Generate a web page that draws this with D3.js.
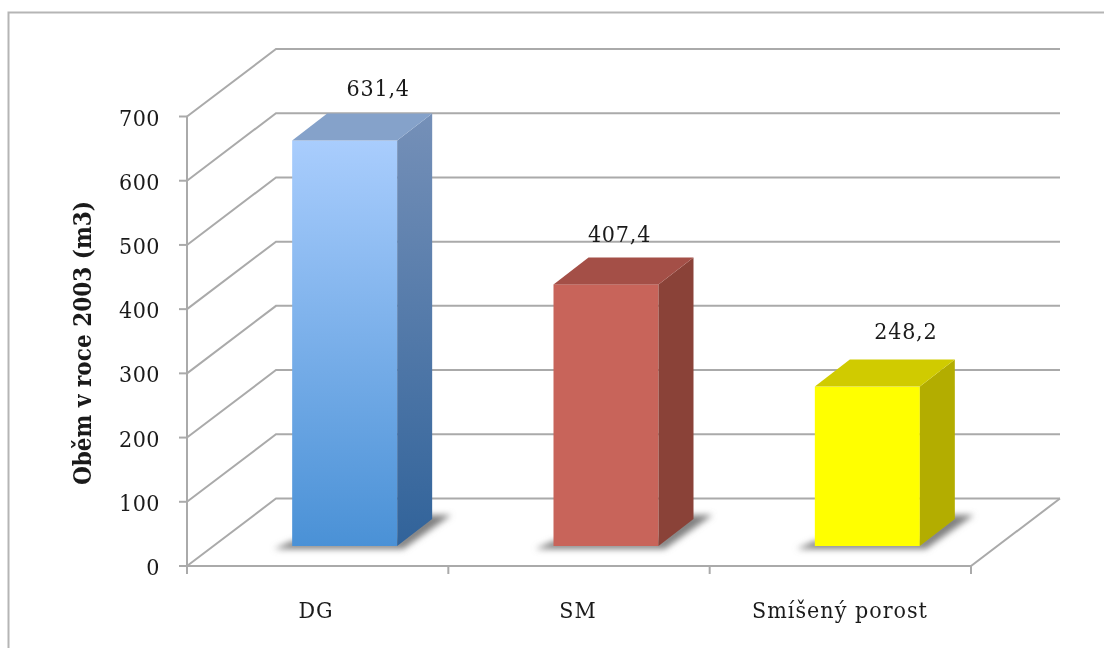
<!DOCTYPE html>
<html><head><meta charset="utf-8">
<script src="https://cdn.jsdelivr.net/npm/d3@7"></script>
<style>html,body{margin:0;padding:0;background:#fff}svg{display:block;filter:blur(0.4px)}text{font-family:"DejaVu Serif Condensed","DejaVu Serif",serif;font-stretch:condensed;fill:#1a1a1a}</style>
</head><body><svg width="1104" height="648"></svg>
<script>
const categories = ["DG","SM","Smíšený porost"];
const values = [631.4,407.4,248.2];
const valueLabels = ["631,4","407,4","248,2"];
const ticks = [0,100,200,300,400,500,600,700];
const yTitle = "Oběm v roce 2003 (m3)";
const frontColors = [["#a9cdfd","#4a91d6"],["#c8645a","#c8645a"],["#ffff00","#ffff00"]];
const sideColors = [["#7590b8","#31639a"],["#8a4238","#8a4238"],["#b3ad00","#b3ad00"]];
const topColors = ["#85a2ca","#a44f47","#d0cb00"];

const svg = d3.select("svg");
const defs = svg.append("defs");
const dx=89,dy=-67.5,barDx=35,barDy=-27;
const y = d3.scaleLinear().domain([0,700]).range([566,116.5]);
const x = d3.scaleBand().domain(categories).range([187,971]);
const barW = 105;
const grid="#aaaaaa";

defs.append("filter").attr("id","blur").attr("x","-30%").attr("y","-80%").attr("width","160%").attr("height","260%")
  .append("feGaussianBlur").attr("stdDeviation",3);
categories.forEach((c,i)=>{
  [["f",frontColors],["s",sideColors]].forEach(([k,arr])=>{
    const g=defs.append("linearGradient").attr("id",k+i).attr("x1",0).attr("y1",0).attr("x2",0).attr("y2",1);
    g.append("stop").attr("offset",0).attr("stop-color",arr[i][0]);
    g.append("stop").attr("offset",1).attr("stop-color",arr[i][1]);
  });
});

svg.append("path").attr("d",`M8.5,648V12.5H1104`).attr("fill","none").attr("stroke","#b5b5b5").attr("stroke-width",2);

const gg=svg.append("g").attr("stroke",grid).attr("stroke-width",2).attr("fill","none");
gg.selectAll("path").data(ticks).join("path")
  .attr("d",d=>`M${187},${y(d)}L${187+dx},${y(d)+dy}H${971+dx}`);
gg.append("path").attr("d",`M187,${y(700)}V${y(0)}`);
gg.append("path").attr("d",`M187,${y(0)}H971L${971+dx},${y(0)+dy}`);
const xt=[187,...categories.map(c=>x(c)+x.bandwidth())];
gg.selectAll(".xt").data(xt).join("path").attr("class","xt").attr("d",d=>`M${d},${y(0)}V${y(0)+8}`);
gg.selectAll(".yt").data(ticks).join("path").attr("class","yt").attr("d",d=>`M179,${y(d)}H187`);

svg.selectAll(".yl").data(ticks).join("text").attr("class","yl")
  .attr("x",160).attr("y",d=>y(d)+9).attr("text-anchor","end").attr("font-size",23).attr("letter-spacing",0.5).text(d=>d);
svg.append("text").attr("transform","translate(91,343) rotate(-90)").attr("text-anchor","middle")
  .attr("font-size",24).attr("font-weight","bold").text(yTitle);
svg.selectAll(".xl").data(categories).join("text").attr("class","xl")
  .attr("x",(d,i)=>[316,578,840][i]).attr("y",618).attr("text-anchor","middle").attr("font-size",23).attr("letter-spacing",1).text(d=>d);

const baseShift = 20;
const labelOffsets = [86,66,91];
const labelBaselines = [96,242,339];
const bars = svg.selectAll(".bar").data(categories).join("g").attr("class","bar");
bars.each(function(c,i){
  const g=d3.select(this);
  const x0=x(c)+(x.bandwidth()-barW)/2+27, x1=x0+barW;
  const yb=y(0)-baseShift, yt=y(values[i])-baseShift;
  g.append("path").attr("filter","url(#blur)").attr("fill","#808080")
   .attr("d",`M${x0-18},${yb+3}H${x1+6}L${x1+barDx+19},${yb-31}H${x1+barDx-5}L${x1},${yb-5}H${x0}Z`);
  g.append("rect").attr("x",x0).attr("y",yt).attr("width",barW).attr("height",yb-yt).attr("fill",`url(#f${i})`);
  g.append("path").attr("fill",`url(#s${i})`).attr("d",`M${x1},${yt}L${x1+barDx},${yt+barDy}V${yb+barDy}L${x1},${yb}Z`);
  g.append("path").attr("fill",topColors[i]).attr("d",`M${x0},${yt}L${x0+barDx},${yt+barDy}H${x1+barDx}L${x1},${yt}Z`);
  g.append("text").attr("x",x0+labelOffsets[i]).attr("y",labelBaselines[i]).attr("text-anchor","middle").attr("font-size",23).attr("letter-spacing",0.8).text(valueLabels[i]);
});
</script></body></html>
